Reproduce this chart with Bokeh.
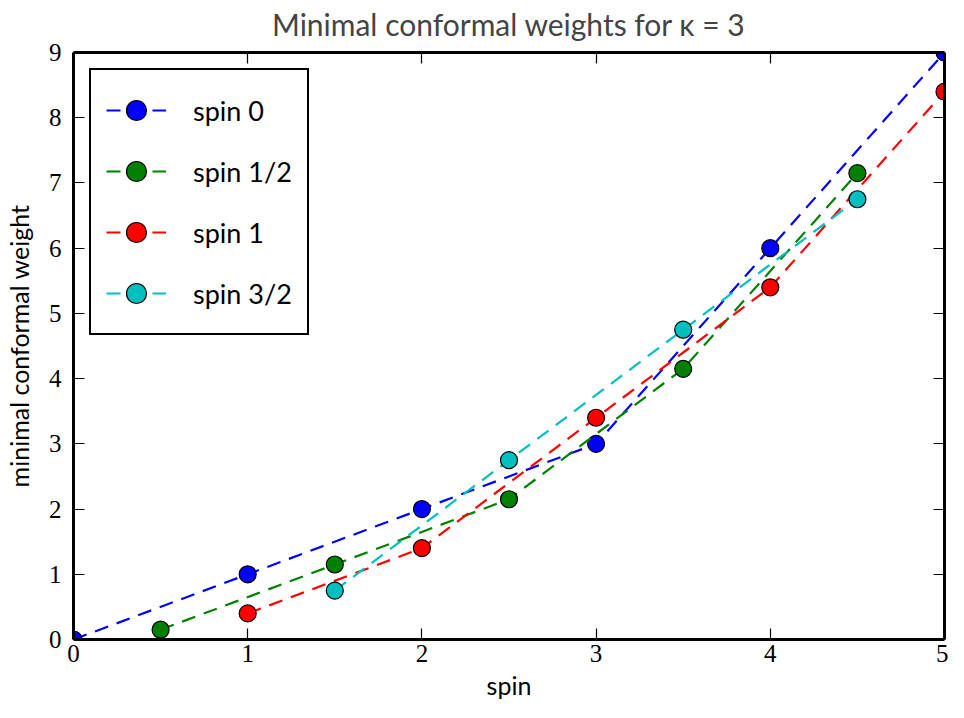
from bokeh.plotting import figure
from bokeh.models import (LinearAxis, Legend, LegendItem, Range1d, FixedTicker,
                          ColumnDataSource, CustomLabelingPolicy)
from bokeh.embed import file_html
from bokeh.resources import INLINE

title_text = "Minimal conformal weights for κ = 3"
x_label = "spin"
y_label = "minimal conformal weight"
x_ticks = [0, 1, 2, 3, 4, 5]
y_ticks = [0, 1, 2, 3, 4, 5, 6, 7, 8, 9]

series_labels = ["spin 0", "spin 1/2", "spin 1", "spin 3/2"]
spin0_x = [0, 1, 2, 3, 4, 5]
spin0_y = [0, 1, 2, 3, 6, 9]
spin_half_x = [0.5, 1.5, 2.5, 3.5, 4.5]
spin_half_y = [0.15, 1.15, 2.15, 4.15, 7.15]
spin1_x = [1, 2, 3, 4, 5]
spin1_y = [0.4, 1.4, 3.4, 5.4, 8.4]
spin_3half_x = [1.5, 2.5, 3.5, 4.5]
spin_3half_y = [0.75, 2.75, 4.75, 6.75]
colors = ["#0000ff", "#008000", "#ff0000", "#00bfbf"]

SANS = "Lato"
SERIF = "Liberation Serif"

p = figure(width=948, height=702, x_range=Range1d(0, 5), y_range=Range1d(0, 9),
           output_backend="svg", toolbar_location=None,
           min_border_left=71, min_border_right=3, min_border_top=52, min_border_bottom=58,
           x_axis_label=x_label, y_axis_label=y_label)
p.title.text = title_text
p.title.align = "center"
p.title.text_font = SANS
p.title.text_font_size = "30px"
p.title.text_font_style = "normal"
p.title.standoff = 4
p.xgrid.visible = False
p.ygrid.visible = False
p.outline_line_color = None
p.background_fill_color = "white"
p.border_fill_color = "white"

top_axis = LinearAxis()
right_axis = LinearAxis()
p.add_layout(top_axis, "above")
p.add_layout(right_axis, "right")

for ax in p.xaxis:
    ax.ticker = FixedTicker(ticks=x_ticks)
for ax in p.yaxis:
    ax.ticker = FixedTicker(ticks=y_ticks)

for ax in p.axis:
    ax.axis_line_color = "black"
    ax.axis_line_width = 3
    ax.major_tick_in = 11
    ax.major_tick_out = 0
    ax.major_tick_line_color = "black"
    ax.major_tick_line_width = 1.2
    ax.minor_tick_line_color = None
    ax.major_label_text_font = SERIF
    ax.major_label_text_font_size = "25px"
    ax.major_label_text_color = "black"
    ax.axis_label_text_font = SANS
    ax.axis_label_text_font_size = "25px"
    ax.axis_label_text_font_style = "normal"
    ax.axis_label_text_color = "black"

hide_labels = CustomLabelingPolicy(code="""
try {
  const all = Array.from(indices)
  for (const i of all) indices.unset(i)
} catch (e) {}
return indices
""")
for ax in (top_axis, right_axis):
    ax.major_label_policy = hide_labels
    ax.major_label_text_font_size = "1px"
    ax.major_label_standoff = 0
    ax.axis_label = None

p.xaxis[0].major_label_standoff = 5
p.xaxis[0].axis_label_standoff = 2
p.yaxis[0].major_label_standoff = 12
p.yaxis[0].axis_label_standoff = 12

series = [(spin0_x, spin0_y), (spin_half_x, spin_half_y), (spin1_x, spin1_y), (spin_3half_x, spin_3half_y)]
items = []
for label, (xs, ys), c in zip(series_labels, series, colors):
    src = ColumnDataSource(dict(x=xs, y=ys))
    lr = p.line("x", "y", source=src, line_color=c, line_width=2.2, line_dash="14 9")
    sr = p.scatter("x", "y", source=src, size=17, fill_color=c, line_color="black", line_width=1.2)
    items.append(LegendItem(label=label, renderers=[lr, sr]))

legend = Legend(items=items, location="top_left")
legend.border_line_color = "black"
legend.border_line_width = 2.5
legend.border_line_alpha = 1
legend.background_fill_color = "white"
legend.background_fill_alpha = 1
legend.label_text_font = SANS
legend.label_text_font_size = "27px"
legend.label_text_color = "black"
legend.glyph_width = 60
legend.glyph_height = 50
legend.label_height = 50
legend.spacing = 11
legend.padding = 15
legend.margin = 16
legend.label_standoff = 27
p.add_layout(legend)

open("out.html", "w").write(file_html(p, INLINE))
